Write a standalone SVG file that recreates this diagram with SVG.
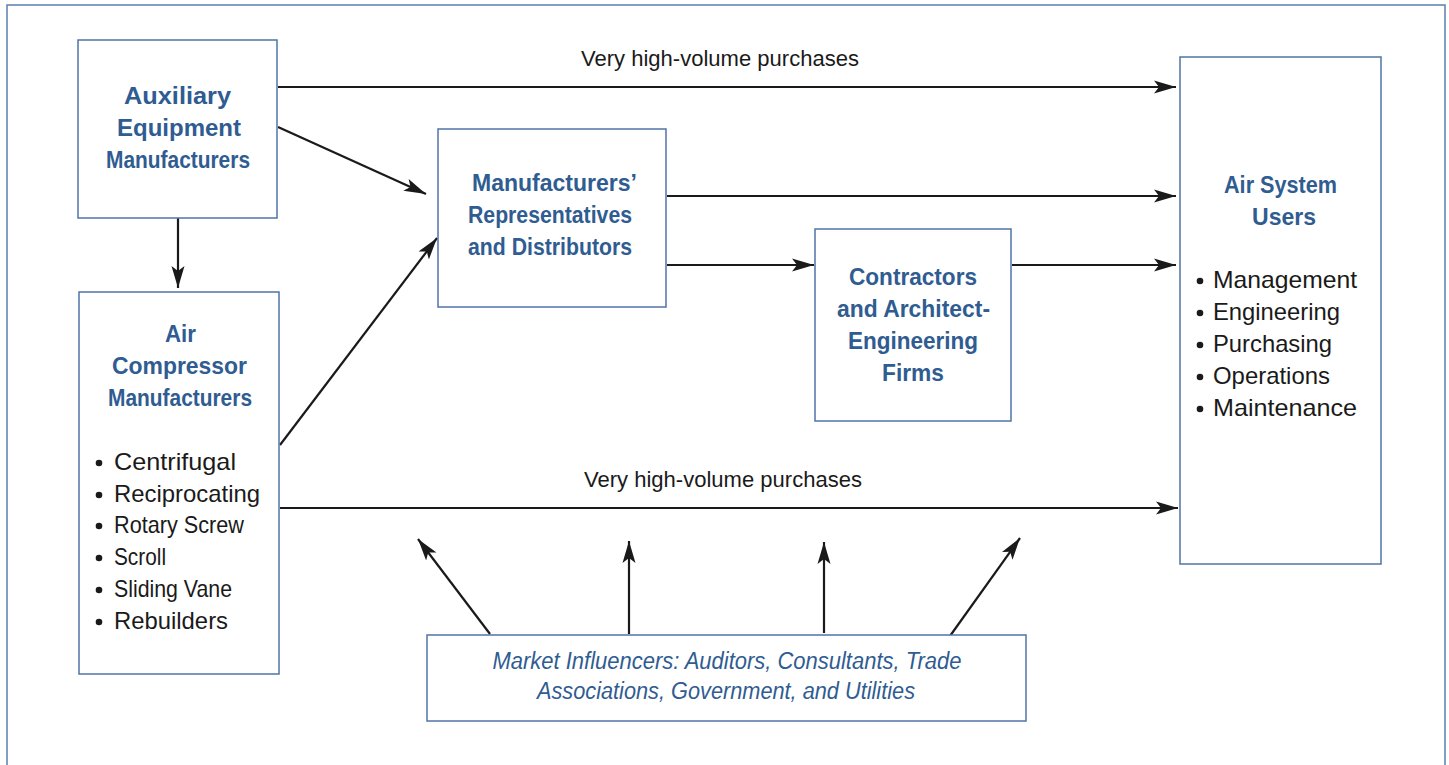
<svg xmlns="http://www.w3.org/2000/svg" width="1449" height="765" viewBox="0 0 1449 765">
<defs>
<marker id="ah" markerWidth="24" markerHeight="14" refX="22" refY="7" orient="auto" markerUnits="userSpaceOnUse">
<path d="M0,0.5 L22,7 L0,13.5 L5,7 Z" fill="#1a1a1a"/>
</marker>
</defs>
<style>
.box{fill:#fff;stroke:#4f74a6;stroke-width:1.5}
.t{font-family:"Liberation Sans",Arial,sans-serif;font-weight:bold;font-size:24px;fill:#2f5c91;text-anchor:middle}
.b{font-family:"Liberation Sans",Arial,sans-serif;font-size:24px;fill:#1a1a1a}
.d{fill:#1a1a1a}
.lab{font-family:"Liberation Sans",Arial,sans-serif;font-size:22px;fill:#1a1a1a;text-anchor:middle}
.it{font-family:"Liberation Sans",Arial,sans-serif;font-style:italic;font-size:23px;fill:#2f5c91;text-anchor:middle}
.c{stroke:#1a1a1a;stroke-width:2.2;fill:none;marker-end:url(#ah)}
</style>
<rect width="1449" height="765" fill="#fff"/>
<rect x="7" y="5" width="1438" height="780" fill="none" stroke="#5a7fae" stroke-width="1.5"/>

<g id="connectors">
<line class="c" x1="278" y1="87" x2="1176" y2="87"/>
<line class="c" x1="278" y1="127" x2="426" y2="194"/>
<line class="c" x1="178" y1="218" x2="178" y2="288"/>
<line class="c" x1="280" y1="445" x2="437" y2="238"/>
<line class="c" x1="667" y1="196" x2="1176" y2="196"/>
<line class="c" x1="667" y1="265" x2="814" y2="265"/>
<line class="c" x1="1012" y1="265" x2="1176" y2="265"/>
<line class="c" x1="280" y1="508" x2="1178" y2="508"/>
<line class="c" x1="490" y1="634" x2="418" y2="539"/>
<line class="c" x1="629" y1="634" x2="629" y2="541"/>
<line class="c" x1="824" y1="633" x2="824" y2="542"/>
<line class="c" x1="950" y1="636" x2="1020" y2="538"/>
<text class="lab" x="720" y="66" textLength="278" lengthAdjust="spacingAndGlyphs">Very high-volume purchases</text>
<text class="lab" x="723" y="487" textLength="278" lengthAdjust="spacingAndGlyphs">Very high-volume purchases</text>
</g>

<g id="aux">
<rect class="box" x="78" y="40" width="199" height="178"/>
<text class="t" x="177.5" y="104" textLength="107" lengthAdjust="spacingAndGlyphs">Auxiliary</text>
<text class="t" x="179" y="136" textLength="124" lengthAdjust="spacingAndGlyphs">Equipment</text>
<text class="t" x="178" y="168" textLength="144" lengthAdjust="spacingAndGlyphs">Manufacturers</text>
</g>

<g id="aircomp">
<rect class="box" x="79" y="292" width="200" height="382"/>
<text class="t" x="180.5" y="342" textLength="31" lengthAdjust="spacingAndGlyphs">Air</text>
<text class="t" x="179.5" y="374" textLength="135" lengthAdjust="spacingAndGlyphs">Compressor</text>
<text class="t" x="180" y="406" textLength="144" lengthAdjust="spacingAndGlyphs">Manufacturers</text>
<circle class="d" cx="99" cy="463" r="3.3"/>
<circle class="d" cx="99" cy="495" r="3.3"/>
<circle class="d" cx="99" cy="526" r="3.3"/>
<circle class="d" cx="99" cy="558" r="3.3"/>
<circle class="d" cx="99" cy="590" r="3.3"/>
<circle class="d" cx="99" cy="622" r="3.3"/>
<text class="b" x="114" y="470" textLength="122" lengthAdjust="spacingAndGlyphs">Centrifugal</text>
<text class="b" x="114" y="502" textLength="146" lengthAdjust="spacingAndGlyphs">Reciprocating</text>
<text class="b" x="114" y="533" textLength="130" lengthAdjust="spacingAndGlyphs">Rotary  Screw</text>
<text class="b" x="114" y="565" textLength="52" lengthAdjust="spacingAndGlyphs">Scroll</text>
<text class="b" x="114" y="597" textLength="118" lengthAdjust="spacingAndGlyphs">Sliding Vane</text>
<text class="b" x="114" y="629" textLength="114" lengthAdjust="spacingAndGlyphs">Rebuilders</text>
</g>

<g id="reps">
<rect class="box" x="438" y="129" width="228" height="178"/>
<text class="t" x="554.5" y="191" textLength="165" lengthAdjust="spacingAndGlyphs">Manufacturers’</text>
<text class="t" x="550" y="223" textLength="164" lengthAdjust="spacingAndGlyphs">Representatives</text>
<text class="t" x="550" y="255" textLength="164" lengthAdjust="spacingAndGlyphs">and Distributors</text>
</g>

<g id="contractors">
<rect class="box" x="815" y="229" width="196" height="192"/>
<text class="t" x="913" y="285" textLength="128" lengthAdjust="spacingAndGlyphs">Contractors</text>
<text class="t" x="913.5" y="317" textLength="153" lengthAdjust="spacingAndGlyphs">and Architect-</text>
<text class="t" x="913" y="349" textLength="130" lengthAdjust="spacingAndGlyphs">Engineering</text>
<text class="t" x="913" y="381" textLength="62" lengthAdjust="spacingAndGlyphs">Firms</text>
</g>

<g id="users">
<rect class="box" x="1180" y="57" width="201" height="507"/>
<text class="t" x="1280.5" y="193" textLength="113" lengthAdjust="spacingAndGlyphs">Air System</text>
<text class="t" x="1284" y="225" textLength="64" lengthAdjust="spacingAndGlyphs">Users</text>
<circle class="d" cx="1200" cy="281" r="3.3"/>
<circle class="d" cx="1200" cy="313" r="3.3"/>
<circle class="d" cx="1200" cy="345" r="3.3"/>
<circle class="d" cx="1200" cy="377" r="3.3"/>
<circle class="d" cx="1200" cy="409" r="3.3"/>
<text class="b" x="1213" y="288" textLength="144" lengthAdjust="spacingAndGlyphs">Management</text>
<text class="b" x="1213" y="320" textLength="127" lengthAdjust="spacingAndGlyphs">Engineering</text>
<text class="b" x="1213" y="352" textLength="119" lengthAdjust="spacingAndGlyphs">Purchasing</text>
<text class="b" x="1213" y="384" textLength="117" lengthAdjust="spacingAndGlyphs">Operations</text>
<text class="b" x="1213" y="416" textLength="144" lengthAdjust="spacingAndGlyphs">Maintenance</text>
</g>

<g id="influencers">
<rect class="box" x="427" y="635" width="599" height="86"/>
<text class="it" x="727" y="669" textLength="469" lengthAdjust="spacingAndGlyphs">Market Influencers: Auditors, Consultants, Trade</text>
<text class="it" x="726" y="699" textLength="378" lengthAdjust="spacingAndGlyphs">Associations, Government, and Utilities</text>
</g>
</svg>
